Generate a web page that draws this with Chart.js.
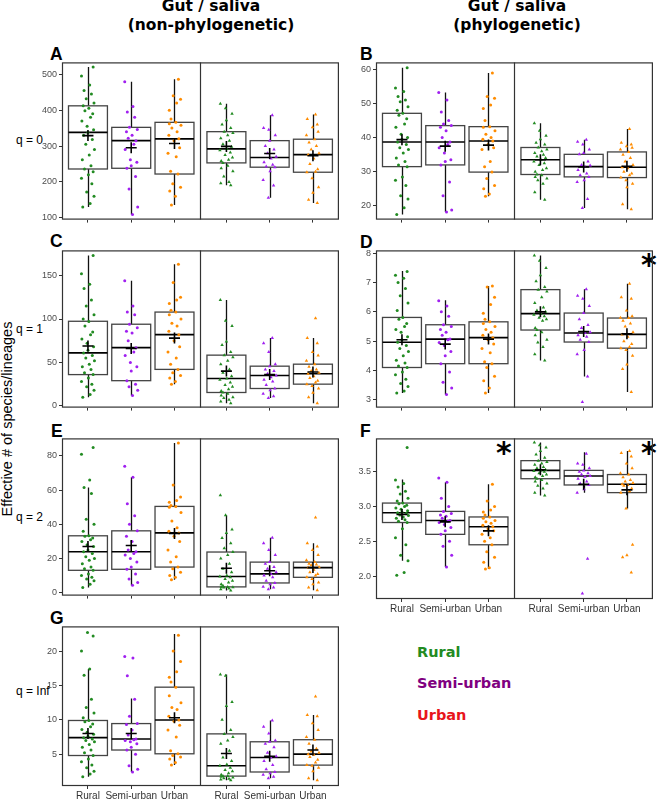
<!DOCTYPE html>
<html>
<head>
<meta charset="utf-8">
<script src="https://cdn.jsdelivr.net/npm/chart.js@4.4.0/dist/chart.umd.min.js"></script>
<style>
    body { margin: 0; background: #fff; width: 660px; height: 799px; position: relative; overflow: hidden; font-family: "Liberation Sans", Arial, sans-serif; }
    .txt { position: absolute; white-space: nowrap; }
    .title { font: bold 15.5px "DejaVu Sans", sans-serif; line-height: 19px; text-align: center; width: 300px; color: #000; }
    .letter { font: bold 17.5px "Liberation Sans", Arial, sans-serif; line-height: 17px; color: #000; }
    .rowlab { font-size: 12px; color: #000; }
    .star { font: bold 30px "DejaVu Sans", sans-serif; line-height: 30px; color: #000; }
    .leg { font: bold 14.5px "DejaVu Sans", sans-serif; line-height: 16px; }
</style>
</head>
<body>

<div class="txt title" style="left:61px;top:-3px">Gut / saliva<br>(non-phylogenetic)</div>
<div class="txt title" style="left:367px;top:-3px">Gut / saliva<br>(phylogenetic)</div>

<div class="txt letter" style="left:50px;top:46px">A</div>
<div class="txt letter" style="left:360px;top:46px">B</div>
<div class="txt letter" style="left:50px;top:233px">C</div>
<div class="txt letter" style="left:360px;top:234px">D</div>
<div class="txt letter" style="left:51px;top:423px">E</div>
<div class="txt letter" style="left:360px;top:423px">F</div>
<div class="txt letter" style="left:50px;top:610px">G</div>

<div class="txt rowlab" style="left:16px;top:133px">q = 0</div>
<div class="txt rowlab" style="left:16px;top:322px">q = 1</div>
<div class="txt rowlab" style="left:16px;top:510px">q = 2</div>
<div class="txt rowlab" style="left:16px;top:684px">q = Inf</div>

<div class="txt" style="left:-93px;top:411px;width:200px;text-align:center;font-size:14.5px;transform:rotate(-90deg)">Effective # of species/lineages</div>

<div class="txt star" style="left:641px;top:250px">*</div>
<div class="txt star" style="left:496px;top:438px">*</div>
<div class="txt star" style="left:641px;top:438px">*</div>

<div class="txt leg" style="left:417px;top:644px;color:#228B22">Rural</div>
<div class="txt leg" style="left:417px;top:675px;color:#800080">Semi-urban</div>
<div class="txt leg" style="left:417px;top:707px;color:#E8141C">Urban</div>

<script>
// categories: gut (1-3) and saliva (4.2-6.2) in one panel
const groups = ['Rural', 'Semi-urban', 'Urban'];
const xPos = [1, 2, 3, 4.2, 5.2, 6.2];
const xLabels = ['Rural', 'Semi-urban', 'Urban', 'Rural', 'Semi-urban', 'Urban'];
const colors = ['#228B22', '#A020F0', '#FF8C00'];
// horizontal jitter for the dots
const jitter = [-0.12, 0.05, 0.14, -0.03, 0.09, -0.15, 0.01, 0.12, -0.08, 0.07, -0.13, 0.03, 0.15, -0.05, 0.1, -0.1, 0.0, 0.13, -0.02, -0.14, 0.06, 0.11, -0.07, 0.02, -0.11, 0.14, -0.04, 0.08, -0.09, 0.04, -0.15, 0.12, -0.01, 0.1, -0.13, 0.06, -0.06, 0.15, -0.12, 0.03, -0.08];

// box stats: [low whisker, q1, median, q3, high whisker]
// A: q = 0, non-phylogenetic
const ticksA = [100, 200, 300, 400, 500];
const boxA = [[130, 236, 338, 412, 520], [109, 238, 315, 352, 479], [136, 222, 320, 366, 486], [191, 253, 292, 340, 418], [156, 241, 268, 315, 386], [141, 227, 276, 319, 388]];
const meanA = [329, 295, 307, 299, 279, 273];
const ptsA = [
    [130, 140, 160, 172, 195, 210, 220, 228, 236, 245, 262, 275, 290, 305, 318, 330, 338, 345, 355, 370, 380, 390, 398, 405, 412, 420, 432, 445, 455, 470, 495, 520],
    [109, 130, 180, 215, 238, 245, 255, 262, 290, 305, 315, 322, 330, 340, 346, 352, 380, 395, 410, 479],
    [136, 160, 175, 185, 195, 222, 230, 270, 280, 295, 315, 320, 330, 340, 350, 358, 362, 366, 375, 400, 420, 430, 440, 486],
    [191, 196, 200, 215, 230, 238, 245, 253, 258, 262, 268, 275, 282, 288, 292, 298, 305, 315, 322, 330, 336, 340, 350, 360, 372, 390, 405, 418],
    [156, 190, 205, 230, 241, 243, 248, 255, 265, 270, 280, 290, 300, 315, 330, 345, 350, 386],
    [141, 150, 170, 185, 210, 227, 228, 235, 250, 265, 276, 280, 290, 300, 310, 319, 330, 340, 352, 360, 375, 388]
];

// B: q = 0, phylogenetic
const ticksB = [20, 30, 40, 50, 60];
const boxB = [[17.5, 31.5, 38.7, 47.1, 60.4], [18.2, 32, 38.7, 43.5, 53.2], [22.8, 29.9, 39, 43.2, 58.9], [21.8, 29.2, 33.5, 37.1, 44.2], [19.4, 28.5, 31.5, 35.1, 39.4], [19, 28.3, 31.3, 35.8, 42.5]];
const meanB = [39.4, 37.5, 37.8, 33.5, 31.4, 31.6];
const ptsB = [
    [17.5, 19.5, 22, 23, 26, 27.5, 28.5, 31.5, 32, 33, 34, 35.5, 36.5, 37, 38, 38.7, 39.5, 40, 41, 43, 44, 45.5, 46.5, 47.1, 48, 49, 50.5, 51, 52, 53.5, 54.5, 60.4],
    [18.2, 18.8, 23, 27, 32, 33, 33.5, 35.5, 37, 38, 38.7, 40, 42, 43, 43.5, 44, 45, 47.5, 51, 53.2],
    [22.8, 23.5, 25, 26, 28, 29.9, 31.5, 33, 36.5, 37, 38, 39, 39.5, 40, 41, 42, 43, 43.2, 45, 48.5, 49.5, 51.5, 52, 58.9],
    [21.8, 24, 26.5, 27.5, 28, 28.5, 29, 29.2, 30, 30.5, 31, 32, 32.5, 33, 33.5, 34, 34.5, 35, 35.5, 36, 36.5, 37.1, 38, 38.5, 39.5, 40.5, 42, 44.2],
    [19.4, 22, 27, 27.5, 28.5, 29, 29.5, 30.5, 31.5, 31.8, 32, 33, 35.1, 35.5, 36.5, 38, 38.8, 39.4],
    [19, 20.5, 25.5, 26.5, 27.5, 28.3, 29, 29.5, 30, 31, 31.3, 32, 33, 34, 35, 35.8, 36.5, 37, 37.5, 38, 38.5, 42.5]
];

// C: q = 1, non-phylogenetic
const ticksC = [0, 50, 100, 150];
const boxC = [[10, 36, 61, 97.4, 173], [12, 29, 67, 94, 144], [25, 42, 82, 108, 163], [3, 15.4, 31.5, 58.4, 122], [9, 20, 35, 45.7, 78], [3, 25, 37, 48, 78]];
const meanC = [69, 66, 78, 40, 36, 39];
const ptsC = [
    [10, 13, 18, 22, 25, 28, 32, 36, 38, 42, 45, 48, 52, 55, 58, 61, 64, 68, 72, 77, 82, 85, 92, 97, 100, 105, 115, 122, 135, 140, 152, 173],
    [12, 18, 22, 25, 29, 40, 45, 50, 58, 62, 67, 75, 84, 86, 90, 94, 105, 108, 115, 144],
    [25, 28, 32, 35, 38, 42, 48, 55, 62, 68, 75, 82, 86, 92, 95, 100, 105, 108, 110, 118, 122, 125, 142, 163],
    [3, 5, 7, 9, 10, 12, 14, 15.4, 17, 19, 22, 24, 27, 30, 31.5, 34, 38, 42, 48, 52, 56, 58.4, 62, 70, 74, 92, 98, 122],
    [9, 11, 14, 18, 20, 24, 28, 30, 33, 35, 37, 40, 42, 45.7, 48, 62, 72, 78],
    [3, 10, 15, 20, 23, 25, 27, 29, 32, 34, 37, 38, 40, 42, 45, 48, 52, 58, 62, 72, 78, 101]
];

// D: q = 1, phylogenetic
const ticksD = [3, 4, 5, 6, 7, 8];
const boxD = [[3.23, 4.1, 4.96, 5.81, 7.4], [3.18, 4.23, 5.07, 5.56, 6.4], [3.23, 4.23, 5.12, 5.66, 6.88], [4.34, 5.38, 5.94, 6.76, 7.93], [3.79, 4.97, 5.28, 5.96, 6.77], [3.26, 4.76, 5.23, 5.79, 6.96]];
const meanD = [5.05, 4.9, 5.07, 6.0, 5.33, 5.25];
const ptsD = [
    [3.23, 3.3, 3.45, 3.55, 3.7, 3.85, 3.95, 4.1, 4.15, 4.25, 4.35, 4.5, 4.65, 4.75, 4.85, 4.96, 5.05, 5.15, 5.3, 5.4, 5.5, 5.6, 5.75, 5.81, 6.05, 6.3, 6.55, 6.8, 7.0, 7.15, 7.25, 7.38],
    [3.18, 3.4, 3.6, 3.95, 4.23, 4.5, 4.65, 4.85, 4.95, 5.05, 5.07, 5.2, 5.3, 5.4, 5.5, 5.56, 5.85, 6.0, 6.2, 6.38],
    [3.23, 3.4, 3.65, 3.8, 4.1, 4.23, 4.3, 4.6, 4.75, 4.9, 5.05, 5.12, 5.2, 5.3, 5.4, 5.5, 5.6, 5.66, 5.75, 5.95, 6.25, 6.5, 6.85, 6.88],
    [4.34, 4.55, 4.8, 4.95, 5.05, 5.2, 5.3, 5.38, 5.45, 5.7, 5.75, 5.8, 5.85, 5.9, 5.94, 6.0, 6.05, 6.15, 6.3, 6.5, 6.7, 6.76, 6.85, 7.05, 7.25, 7.5, 7.75, 7.93],
    [2.92, 3.79, 4.55, 4.7, 4.97, 5.05, 5.15, 5.2, 5.28, 5.3, 5.45, 5.55, 5.75, 5.96, 6.2, 6.45, 6.55, 6.77],
    [3.26, 4.05, 4.2, 4.5, 4.7, 4.76, 4.8, 4.9, 5.0, 5.15, 5.23, 5.3, 5.5, 5.6, 5.7, 5.79, 5.8, 5.85, 6.05, 6.45, 6.5, 6.96]
];

// E: q = 2, non-phylogenetic
const ticksE = [0, 20, 40, 60, 80];
const boxE = [[3, 13.1, 24, 33.3, 61.5], [4.4, 13.7, 24, 36.2, 67.6], [7.6, 15, 35, 50.5, 87.6], [1.3, 3.4, 9.5, 23.8, 45.3], [2, 5.7, 11, 17.9, 32.2], [1.5, 9, 14.7, 17.9, 29]];
const meanE = [27, 27.6, 34.7, 14.3, 12.8, 14.7];
const ptsE = [
    [3, 5, 7, 8, 9, 10, 11, 13.1, 14, 15, 17, 19, 20, 21, 23, 24, 25, 27, 28, 30, 31, 32, 33, 33.3, 36, 40, 43, 58, 61.5, 66, 81, 85],
    [4.4, 6, 8, 11, 13.7, 15, 18, 20, 22, 23, 24, 25, 30, 33, 36.2, 40, 45, 52, 67.6, 74],
    [7.6, 9, 10, 12, 14, 15, 18, 21, 25, 30, 33, 35, 36, 38, 42, 47, 50, 50.5, 51, 53, 54, 56, 63, 87.6],
    [1.3, 2, 2.5, 3, 3.2, 3.4, 3.4, 4, 5, 6, 7, 8, 9, 9.5, 10, 12, 14, 17, 20, 22, 23.8, 26, 29, 32, 35, 37, 45.3, 57],
    [2, 3, 3.5, 5, 5.7, 7, 9, 10, 11, 12, 14, 15, 17, 17.9, 22, 25, 29, 32.2],
    [1.5, 3, 5, 6, 8, 9, 10, 11, 12, 13.5, 14.7, 15, 16, 16.5, 17, 17.9, 19, 22, 25, 27, 29, 44]
];

// F: q = 2, phylogenetic
const ticksF = [2.0, 2.5, 3.0, 3.5];
const boxF = [[2.22, 2.77, 2.91, 3.05, 3.39], [2.13, 2.6, 2.8, 2.93, 3.35], [2.1, 2.45, 2.71, 2.85, 3.32], [3.16, 3.4, 3.52, 3.66, 3.92], [3.2, 3.31, 3.44, 3.52, 3.78], [2.97, 3.2, 3.32, 3.46, 3.8]];
const meanF = [2.885, 2.78, 2.65, 3.53, 3.32, 3.24];
const ptsF = [
    [2.01, 2.05, 2.22, 2.3, 2.45, 2.55, 2.68, 2.77, 2.79, 2.81, 2.83, 2.85, 2.87, 2.88, 2.9, 2.91, 2.92, 2.94, 2.96, 2.98, 3.0, 3.02, 3.04, 3.05, 3.08, 3.12, 3.18, 3.22, 3.28, 3.33, 3.38, 3.85],
    [2.13, 2.3, 2.43, 2.5, 2.6, 2.65, 2.7, 2.74, 2.77, 2.79, 2.8, 2.83, 2.86, 2.88, 2.9, 2.93, 3.0, 3.12, 3.35, 3.41],
    [2.1, 2.12, 2.2, 2.27, 2.35, 2.45, 2.5, 2.55, 2.6, 2.65, 2.68, 2.71, 2.73, 2.76, 2.78, 2.8, 2.83, 2.85, 2.88, 2.92, 2.95, 3.0, 3.08, 3.32],
    [3.16, 3.2, 3.26, 3.3, 3.33, 3.36, 3.38, 3.4, 3.42, 3.44, 3.46, 3.48, 3.5, 3.51, 3.52, 3.53, 3.55, 3.57, 3.6, 3.62, 3.64, 3.66, 3.7, 3.75, 3.8, 3.85, 3.88, 3.92],
    [1.75, 2.25, 3.2, 3.25, 3.31, 3.33, 3.36, 3.4, 3.43, 3.44, 3.46, 3.48, 3.5, 3.52, 3.55, 3.6, 3.62, 3.76],
    [2.05, 2.27, 2.3, 2.45, 2.97, 3.2, 3.22, 3.26, 3.3, 3.31, 3.32, 3.34, 3.36, 3.38, 3.42, 3.46, 3.48, 3.55, 3.62, 3.72, 3.77, 3.8]
];

// G: q = Inf, non-phylogenetic
const ticksG = [5, 10, 15, 20];
const boxG = [[1.7, 4.8, 7.4, 9.9, 17.4], [2.4, 5.6, 7.2, 9.45, 13.1], [3.4, 5.05, 9.97, 14.75, 22.5], [1.2, 1.8, 3.3, 7.95, 16.6], [1.5, 2.4, 4.5, 6.8, 9.9], [1.2, 3.4, 5.0, 7.1, 10.7]];
const meanG = [8.0, 8.0, 10.3, 5.1, 4.7, 5.6];
const ptsG = [
    [1.7, 2.1, 2.5, 3.0, 3.4, 3.9, 4.3, 4.8, 5.2, 5.6, 6.0, 6.4, 6.8, 7.0, 7.2, 7.4, 7.6, 7.9, 8.2, 8.6, 9.0, 9.4, 9.7, 9.9, 10.3, 11.0, 11.8, 13.0, 16.5, 17.4, 20.0, 22.2, 22.7],
    [2.4, 2.8, 3.3, 5.0, 5.6, 6.0, 6.5, 6.8, 7.0, 7.1, 7.2, 7.8, 8.5, 9.3, 9.45, 10.5, 13.0, 16.4, 19.0, 19.2],
    [3.4, 3.8, 4.3, 4.6, 4.8, 5.05, 5.5, 7.5, 8.5, 9.2, 9.8, 9.97, 10.5, 11.5, 11.8, 12.5, 13.5, 14.75, 15.5, 16.2, 17.0, 18.5, 20.0, 22.3],
    [1.2, 1.3, 1.4, 1.5, 1.6, 1.7, 1.8, 1.8, 2.0, 2.2, 2.5, 2.7, 3.0, 3.3, 3.5, 4.0, 4.5, 5.5, 6.5, 7.0, 7.5, 7.95, 8.5, 10.0, 12.0, 12.6, 16.4, 16.6],
    [1.5, 1.7, 2.0, 2.2, 2.4, 2.8, 3.4, 4.0, 4.5, 4.7, 5.2, 6.0, 6.5, 6.8, 7.0, 8.0, 9.0, 9.9],
    [1.2, 1.5, 2.5, 3.0, 3.3, 3.4, 3.8, 4.2, 4.6, 4.9, 5.0, 5.2, 5.4, 5.8, 6.5, 7.1, 7.5, 8.5, 9.5, 10.5, 10.7, 13.4]
];

// plot rectangles [left, top, width, height] in page pixels
var panels = [
    { box: [62, 61, 283, 161], yMin: 95, yMax: 533, ticks: ticksA, stats: boxA, means: meanA, pts: ptsA, xlab: false },
    { box: [376, 61, 283, 161], yMin: 16, yMax: 62, ticks: ticksB, stats: boxB, means: meanB, pts: ptsB, xlab: false },
    { box: [62, 249, 283, 161], yMin: -2, yMax: 179, ticks: ticksC, stats: boxC, means: meanC, pts: ptsC, xlab: false },
    { box: [376, 249, 283, 161], yMin: 2.73, yMax: 8.1, ticks: ticksD, stats: boxD, means: meanD, pts: ptsD, xlab: false },
    { box: [62, 437, 283, 161], yMin: -1.7, yMax: 90.3, ticks: ticksE, stats: boxE, means: meanE, pts: ptsE, xlab: false },
    { box: [376, 437, 283, 162], yMin: 1.67, yMax: 3.98, ticks: ticksF, stats: boxF, means: meanF, pts: ptsF, xlab: true, fixed: 1 },
    { box: [62, 625, 283, 161], yMin: 0.36, yMax: 23.6, ticks: ticksG, stats: boxG, means: meanG, pts: ptsG, xlab: true }
];

Chart.defaults.font.family = '"Liberation Sans", Arial, sans-serif';

// draws boxes + whiskers under the dots, and the panel frame on top
function boxPlugin(stats) {
    return {
        id: 'boxes',
        beforeDatasetsDraw: function (chart) {
            var ctx = chart.ctx, x = chart.scales.x, y = chart.scales.y;
            ctx.save();
            stats.forEach(function (b, i) {
                var xc = Math.round(x.getPixelForValue(xPos[i])) + 0.5;
                var xl = x.getPixelForValue(xPos[i] - 0.45);
                var xr = x.getPixelForValue(xPos[i] + 0.45);
                var lo = y.getPixelForValue(b[0]), q1 = y.getPixelForValue(b[1]);
                var md = y.getPixelForValue(b[2]), q3 = y.getPixelForValue(b[3]);
                var hi = y.getPixelForValue(b[4]);
                ctx.strokeStyle = '#111';
                ctx.lineWidth = 1.3;
                ctx.beginPath();
                ctx.moveTo(xc, lo); ctx.lineTo(xc, q1);
                ctx.moveTo(xc, q3); ctx.lineTo(xc, hi);
                ctx.stroke();
                ctx.fillStyle = '#fff';
                ctx.fillRect(xl, q3, xr - xl, q1 - q3);
                ctx.strokeStyle = '#444';
                ctx.lineWidth = 1.3;
                ctx.strokeRect(xl, q3, xr - xl, q1 - q3);
                ctx.strokeStyle = '#000';
                ctx.lineWidth = 1.6;
                ctx.beginPath();
                ctx.moveTo(xl, md); ctx.lineTo(xr, md);
                ctx.stroke();
            });
            ctx.restore();
        },
        afterDraw: function (chart) {
            var ctx = chart.ctx, a = chart.chartArea, x = chart.scales.x;
            ctx.save();
            ctx.strokeStyle = '#333';
            ctx.lineWidth = 1.2;
            ctx.strokeRect(a.left + 0.5, a.top + 0.5, a.right - a.left - 1, a.bottom - a.top - 1);
            var sx = Math.round(x.getPixelForValue(3.6)) + 0.5;
            ctx.beginPath();
            ctx.moveTo(sx, a.top); ctx.lineTo(sx, a.bottom);
            ctx.stroke();
            ctx.restore();
        }
    };
}

panels.forEach(function (p) {
    var l = p.box[0], t = p.box[1], w = p.box[2], h = p.box[3];
    var xh = p.xlab ? 18 : 5;
    var cv = document.createElement('canvas');
    cv.width = 40 + w + 1;
    cv.height = 6 + h + xh;
    cv.style.cssText = 'position:absolute;left:' + (l - 40) + 'px;top:' + (t - 6) + 'px;width:' + cv.width + 'px;height:' + cv.height + 'px';
    document.body.appendChild(cv);

    var datasets = [{
        data: xPos.map(function (v, i) { return { x: v, y: p.means[i] }; }),
        pointStyle: 'cross', pointRadius: 5.5, borderColor: '#000', borderWidth: 1.6,
        backgroundColor: '#000', showLine: false
    }];
    p.pts.forEach(function (vals, i) {
        datasets.push({
            data: vals.map(function (v, k) { return { x: xPos[i] + jitter[(k + i * 11) % jitter.length], y: v }; }),
            pointStyle: i < 3 ? 'circle' : 'triangle',
            pointRadius: i < 3 ? 1.5 : 2.0,
            backgroundColor: colors[i % 3],
            borderColor: colors[i % 3],
            borderWidth: 0,
            showLine: false
        });
    });

    new Chart(cv, {
        type: 'scatter',
        data: { datasets: datasets },
        options: {
            responsive: false,
            animation: false,
            devicePixelRatio: 1,
            events: [],
            layout: { padding: { top: 6, right: 1, left: 0, bottom: 0 } },
            plugins: { legend: { display: false }, tooltip: { enabled: false } },
            scales: {
                x: {
                    type: 'linear', min: 0.4, max: 6.8,
                    afterBuildTicks: function (s) { s.ticks = xPos.map(function (v) { return { value: v }; }); },
                    afterFit: function (s) { s.height = xh; },
                    ticks: {
                        autoSkip: false, maxRotation: 0, padding: 1,
                        font: { size: 10 }, color: '#333',
                        callback: function (v, i) { return p.xlab ? xLabels[i] : ''; }
                    },
                    grid: { drawOnChartArea: false, drawTicks: true, tickLength: 3, color: '#333' },
                    border: { display: false }
                },
                y: {
                    min: p.yMin, max: p.yMax,
                    afterBuildTicks: function (s) { s.ticks = p.ticks.map(function (v) { return { value: v }; }); },
                    afterFit: function (s) { s.width = 40; },
                    ticks: {
                        padding: 2, font: { size: 9 }, color: '#4d4d4d',
                        callback: function (v) { return p.fixed ? v.toFixed(1) : v; }
                    },
                    grid: { drawOnChartArea: false, drawTicks: true, tickLength: 3, color: '#333' },
                    border: { display: false }
                }
            }
        },
        plugins: [boxPlugin(p.stats)]
    });
});
</script>
</body>
</html>
